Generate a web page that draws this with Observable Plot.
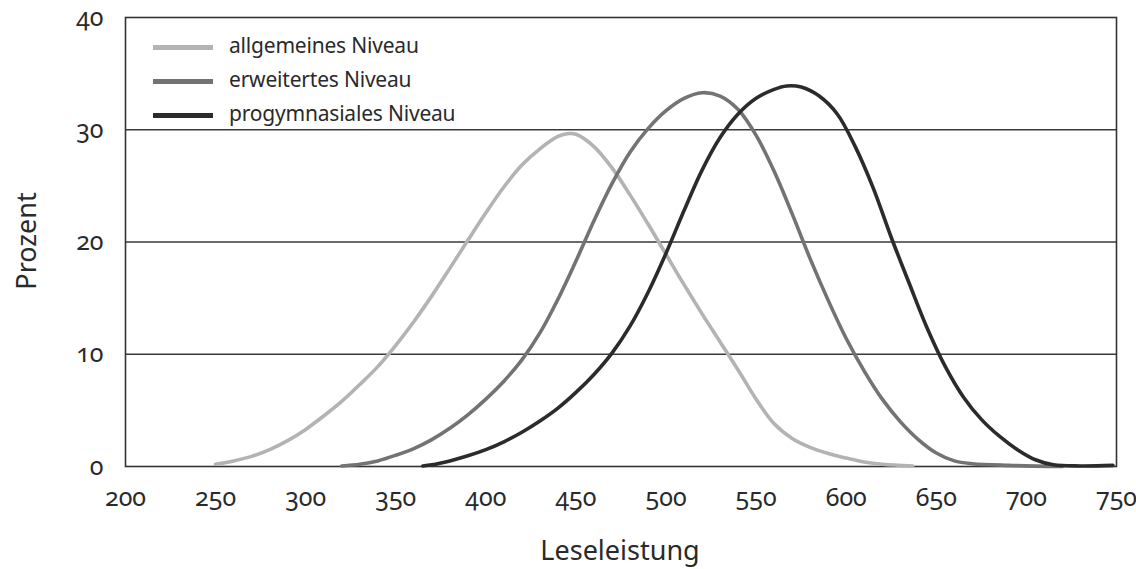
<!DOCTYPE html>
<html>
<head>
<meta charset="utf-8">
<script src="https://cdn.jsdelivr.net/npm/d3@7"></script>
<script src="https://cdn.jsdelivr.net/npm/@observablehq/plot@0.6"></script>
<style>
  html, body { margin: 0; padding: 0; background: #fff; }
  #wrap { position: relative; width: 1136px; height: 569px; font-family: "Noto Sans", "Open Sans", sans-serif; font-feature-settings: "onum" 1; font-variant-numeric: oldstyle-nums; color: #2a2a2a; }
  #legend { position: absolute; left: 153px; top: 0; }
  .item { position: absolute; left: 0; white-space: nowrap; font-size: 21px; letter-spacing: -0.2px; }
  .sw { position: absolute; left: 0; width: 60px; height: 4.5px; }
  .lab { position: absolute; left: 76px; line-height: 1; }
  .axlab { position: absolute; font-size: 27px; white-space: nowrap; line-height: 1; }
  #xlab { left: 620px; top: 536px; transform: translateX(-50%); }
  #ylab { left: 25px; top: 241px; transform: translate(-50%, -50%) rotate(-90deg); }
</style>
</head>
<body>
<div id="wrap"><div id="legend"></div><div id="xlab" class="axlab"></div><div id="ylab" class="axlab"></div></div>
<script>
const seriesNames = ["allgemeines Niveau", "erweitertes Niveau", "progymnasiales Niveau"];
const seriesColors = ["#b3b3b3", "#737373", "#2b2b2b"];
const xLabel = "Leseleistung";
const yLabel = "Prozent";

const allgX = [250,260,270,280,290,300,310,320,330,340,350,360,370,380,390,400,410,420,430,440,445,450,460,470,480,490,500,510,520,530,540,550,560,570,580,590,600,610,620,637];
const allgY = [0.2,0.5,0.9,1.5,2.3,3.3,4.5,5.8,7.3,8.9,10.8,12.9,15.2,17.65,20.15,22.6,24.9,26.85,28.3,29.4,29.65,29.6,28.5,26.6,24.2,21.6,18.9,16.2,13.6,11.1,8.6,6.0,3.8,2.5,1.7,1.15,0.75,0.4,0.2,0.05];

const erwX = [320,330,340,350,360,370,380,390,400,410,420,430,440,450,460,470,480,490,500,510,520,530,540,550,560,570,580,590,600,610,620,630,640,650,660,670,690,720];
const erwY = [0.05,0.2,0.5,1.0,1.6,2.4,3.4,4.6,6.0,7.6,9.5,11.9,14.9,18.3,21.9,25.2,28.0,30.1,31.7,32.8,33.3,33.0,31.8,29.5,26.3,22.5,18.5,14.8,11.4,8.5,6.0,4.0,2.4,1.2,0.5,0.25,0.1,0];

const proX = [365,370,380,390,400,410,420,430,440,450,460,470,480,490,500,510,520,530,540,550,560,567,575,585,595,605,615,625,635,645,655,665,675,685,695,705,715,730,748];
const proY = [0.05,0.15,0.5,0.95,1.5,2.2,3.05,4.05,5.2,6.6,8.2,10.1,12.5,15.5,19.0,22.8,26.4,29.3,31.4,32.8,33.6,33.9,33.8,33.0,31.4,28.5,24.8,20.4,16.3,12.3,8.9,6.2,4.2,2.7,1.5,0.6,0.15,0.05,0.1];

const xTicks = [200,250,300,350,400,450,500,550,600,650,700,750];
const yTicks = [0,10,20,30,40];
const gridLines = [10,20,30];

const seriesXs = [allgX, erwX, proX];
const seriesYs = [allgY, erwY, proY];
const data = seriesNames.flatMap((name, i) => seriesXs[i].map((x, j) => ({series: name, x, y: seriesYs[i][j]})));

const chart = Plot.plot({
  width: 1136,
  height: 569,
  marginLeft: 125,
  marginRight: 20,
  marginTop: 17,
  marginBottom: 103,
  style: {fontFamily: '"Noto Sans", "Open Sans", sans-serif', fontSize: "25px", color: "#2a2a2a", background: "#fff", fontVariantNumeric: "oldstyle-nums"},
  x: {domain: [200, 750], ticks: xTicks, tickSize: 0, tickPadding: 22, label: null, tickFormat: d => String(d)},
  y: {domain: [0, 40], ticks: yTicks, tickSize: 0, tickPadding: 22, label: null, tickFormat: d => String(d)},
  color: {domain: seriesNames, range: seriesColors},
  marks: [
    Plot.ruleY(gridLines, {stroke: "#3a3a3a", strokeWidth: 1.3}),
    Plot.frame({stroke: "#333", strokeWidth: 1.6}),
    Plot.line(data, {x: "x", y: "y", z: "series", stroke: "series", strokeWidth: 3.6, curve: "catmull-rom"})
  ]
});
document.getElementById("wrap").prepend(chart);
document.getElementById("xlab").textContent = xLabel;
document.getElementById("ylab").textContent = yLabel;

const rowsY = [47, 81, 115];
const legend = document.getElementById("legend");
seriesNames.forEach((name, i) => {
  const item = document.createElement("div");
  item.className = "item";
  item.style.top = rowsY[i] + "px";
  const sw = document.createElement("div");
  sw.className = "sw";
  sw.style.background = seriesColors[i];
  sw.style.top = "-2px";
  const lab = document.createElement("div");
  lab.className = "lab";
  lab.textContent = name;
  lab.style.top = "-12px";
  item.appendChild(sw);
  item.appendChild(lab);
  legend.appendChild(item);
});
</script>
</body>
</html>
